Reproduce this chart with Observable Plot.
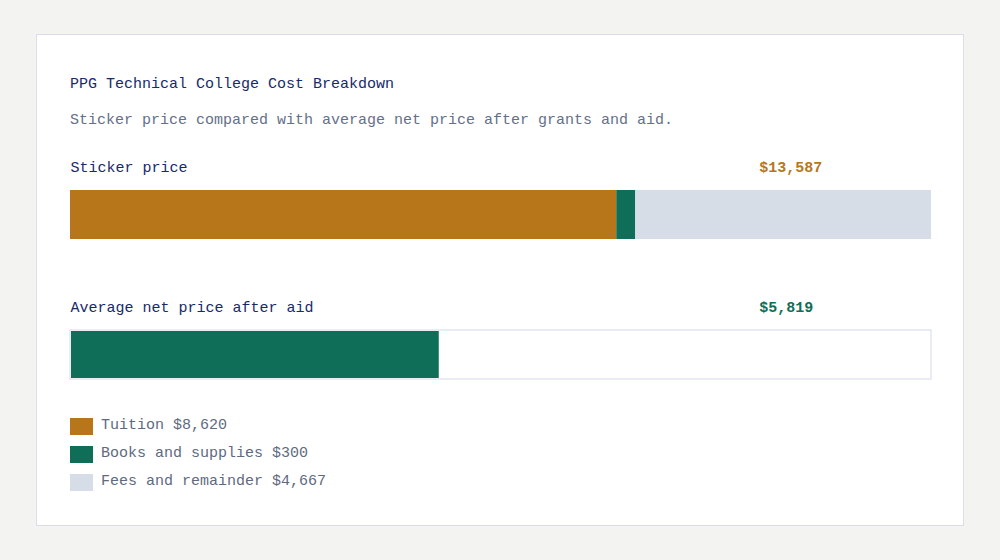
<!DOCTYPE html>
<html>
<head>
<meta charset="utf-8">
<script src="https://cdn.jsdelivr.net/npm/d3@7"></script>
<script src="https://cdn.jsdelivr.net/npm/@observablehq/plot@0.6"></script>
<style>
  html, body { margin: 0; padding: 0; background: #f3f3f1; width: 1000px; height: 560px; overflow: hidden; }
  body { font-family: "Liberation Mono", monospace; }
  #card { position: absolute; left: 36px; top: 34px; width: 926px; height: 490px; background: #fff; border: 1px solid #d9dee8; }
  .abs { position: absolute; white-space: nowrap; font-size: 15px; line-height: 20px; }
  #title { left: 70px; top: 75px; color: #172a6b; }
  #subtitle { left: 70px; top: 111px; color: #64708a; }
  #chart { position: absolute; left: 36px; top: 140px; }
  .leg { position: absolute; left: 70px; height: 20px; }
  .sw { position: absolute; left: 0; top: 2px; width: 23px; height: 17px; }
  .lt { position: absolute; left: 31px; top: 0; font-size: 15px; line-height: 20px; color: #5e6a80; white-space: nowrap; }
</style>
</head>
<body>
<div id="card"></div>
<div id="title" class="abs">PPG Technical College Cost Breakdown</div>
<div id="subtitle" class="abs">Sticker price compared with average net price after grants and aid.</div>
<div id="chart"></div>
<div id="legend"></div>
<script>
const rows = ["Sticker price", "Average net price after aid"];
const components = ["Tuition", "Books and supplies", "Fees and remainder"];
const componentValues = [8620, 300, 4667];
const componentColors = ["#b8761a", "#0f6e57", "#d6dde7"];
const stickerTotal = 13587;
const netPrice = 5819;
const totals = [stickerTotal, netPrice];
const totalLabels = ["$13,587", "$5,819"];
const totalColors = ["#b8761a", "#0f6e57"];

const segments = components.map((c, i) => ({row: rows[0], name: c, value: componentValues[i]}));
const netRow = [{row: rows[1], name: "Net price", value: netPrice}];
const trackRow = [{row: rows[1], value: stickerTotal}];
const labelRows = rows.map((r, i) => ({row: r, total: totals[i], label: totalLabels[i], color: totalColors[i]}));

const chart = Plot.plot({
  width: 928,
  height: 250,
  marginLeft: 34,
  marginRight: 33,
  marginTop: 50,
  marginBottom: 11,
  style: {fontFamily: "Liberation Mono, monospace", fontSize: "15px", background: "transparent", overflow: "visible"},
  x: {domain: [0, stickerTotal], axis: null},
  y: {type: "band", domain: rows, paddingInner: 0.65, paddingOuter: 0, axis: null},
  color: {domain: components, range: componentColors},
  marks: [
    Plot.barX(trackRow, {x1: 0, x2: "value", y: "row", fill: "#ffffff", stroke: "#d3dae6", strokeWidth: 1}),
    Plot.barX(segments, {x: "value", y: "row", fill: "name"}),
    Plot.barX(netRow, {x1: 0, x2: "value", y: "row", fill: "#0f6e57", insetLeft: 1, insetTop: 1, insetBottom: 1}),
    Plot.text(labelRows, {x: 0, y: "row", text: "row", textAnchor: "start", dy: -48, fill: "#172a6b", fontSize: 15}),
    Plot.text(labelRows, {x: () => stickerTotal * 0.8, y: "row", text: "label", textAnchor: "start", dy: -48, fill: "color", fontSize: 15, fontWeight: 600})
  ]
});
document.getElementById("chart").appendChild(chart);

const legend = document.getElementById("legend");
components.forEach((c, i) => {
  const item = document.createElement("div");
  item.className = "leg";
  item.style.top = (416 + i * 28) + "px";
  const sw = document.createElement("div");
  sw.className = "sw";
  sw.style.background = componentColors[i];
  const t = document.createElement("div");
  t.className = "lt";
  t.textContent = c + " $" + d3.format(",")(componentValues[i]);
  item.appendChild(sw);
  item.appendChild(t);
  legend.appendChild(item);
});
</script>
</body>
</html>
